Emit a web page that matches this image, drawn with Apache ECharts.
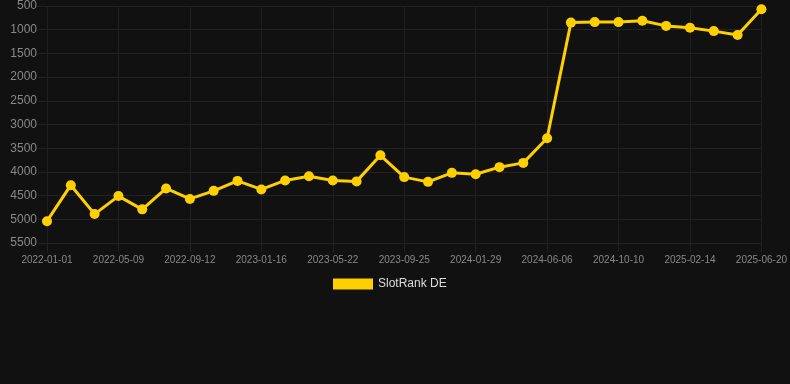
<!DOCTYPE html>
<html><head><meta charset="utf-8">
<script src="https://cdn.jsdelivr.net/npm/echarts@6/dist/echarts.min.js"></script>
<style>html,body{margin:0;padding:0;background:#111111;}#c{width:790px;height:384px;}</style>
</head><body><div id="c"></div>
<script>
const categories = [
 '2022-01-01','2022-02-13','2022-03-28','2022-05-09','2022-06-20','2022-08-01','2022-09-12',
 '2022-10-24','2022-12-05','2023-01-16','2023-02-27','2023-04-10','2023-05-22','2023-07-03',
 '2023-08-14','2023-09-25','2023-11-06','2023-12-18','2024-01-29','2024-03-12','2024-04-24',
 '2024-06-06','2024-07-18','2024-08-29','2024-10-10','2024-11-21','2025-01-02','2025-02-14',
 '2025-03-28','2025-05-09','2025-06-20'
];
const rankDE = [
 5040,4280,4890,4510,4790,4350,4570,4400,4190,4370,4180,4090,4180,4200,3650,
 4110,4210,4020,4050,3900,3810,3290,850,840,840,810,920,960,1030,1110,570
];
const yMin = 500, yMax = 5500, yStep = 500;
const seriesName = 'SlotRank DE';

const chart = echarts.init(document.getElementById('c'));
chart.setOption({
  backgroundColor: '#111111',
  animation: false,
  grid: { left: 47, right: 28, top: 6, bottom: 141 },
  legend: {
    data: [seriesName], top: 273, left: 328,
    itemWidth: 40, itemHeight: 11, icon: 'rect', itemGap: 10,
    textStyle: { color: '#dddddd', fontSize: 12, fontFamily: 'Arial, Liberation Sans, sans-serif' }
  },
  xAxis: {
    type: 'category', data: categories, boundaryGap: false,
    axisLine: { show: false },
    axisTick: { show: true, interval: 2, length: 9, lineStyle: { color: '#222222' } },
    axisLabel: { interval: 2, color: '#888888', fontSize: 10, margin: 12, fontFamily: 'Arial, Liberation Sans, sans-serif' },
    splitLine: { show: true, interval: 2, lineStyle: { color: '#1f1f1f', width: 1 } }
  },
  yAxis: {
    type: 'value', inverse: true, min: yMin, max: yMax, interval: yStep,
    axisLine: { show: false },
    axisTick: { show: true, length: 9, lineStyle: { color: '#222222' } },
    axisLabel: { color: '#888888', fontSize: 12, margin: 10, formatter: v => String(v), fontFamily: 'Arial, Liberation Sans, sans-serif' },
    splitLine: { lineStyle: { color: '#222222', width: 1 } }
  },
  series: [{
    name: seriesName, type: 'line', data: rankDE,
    symbol: 'circle', symbolSize: 10,
    lineStyle: { color: '#FFD000', width: 3 },
    itemStyle: { color: '#FFD000' }
  }]
});
</script></body></html>
